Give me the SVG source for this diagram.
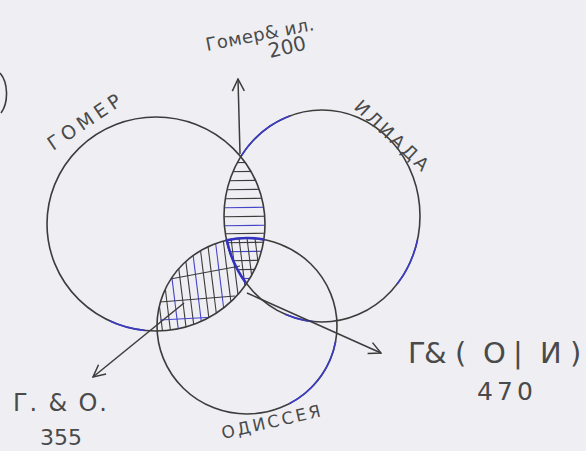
<svg xmlns="http://www.w3.org/2000/svg" width="586" height="451" viewBox="0 0 586 451">
<style>
.c{fill:none;stroke:#3c3c3c;stroke-width:1.6}
.b{fill:none;stroke:#3b3bc8;stroke-width:1.6}
.h{stroke:#3c3c3c;stroke-width:1.1}
.hb{stroke:#4545c8;stroke-width:1.1}
.t{font-family:"DejaVu Sans","Liberation Sans",sans-serif;fill:#4a4a4a}
.a{fill:none;stroke:#3c3c3c;stroke-width:1.5}
</style>
<defs>
<clipPath id="cG"><ellipse cx="156" cy="224" rx="109" ry="107"/></clipPath>
<clipPath id="cI"><ellipse cx="322" cy="216" rx="98" ry="106"/></clipPath>
<clipPath id="cO"><ellipse cx="247" cy="326" rx="90" ry="88"/></clipPath>
<marker id="ah" viewBox="0 0 14 14" refX="13" refY="7" markerWidth="14" markerHeight="14" markerUnits="userSpaceOnUse" orient="auto">
<path d="M1,1 L13,7 L1,13" fill="none" stroke="#3c3c3c" stroke-width="1.5"/>
</marker>
</defs>
<rect x="0" y="0" width="586" height="451" fill="#efeff3"/>
<path class="c" d="M0,73 C8,82 9,102 1,113"/>
<g id="hatching">
<g clip-path="url(#cG)"><g clip-path="url(#cI)">
<line class="h" x1="210" y1="163" x2="280" y2="162"/>
<line class="h" x1="210" y1="172" x2="280" y2="171"/>
<line class="h" x1="210" y1="181" x2="280" y2="180"/>
<line class="h" x1="210" y1="190" x2="280" y2="189"/>
<line class="h" x1="210" y1="199" x2="280" y2="198"/>
<line class="hb" x1="210" y1="208" x2="280" y2="207"/>
<line class="h" x1="210" y1="217" x2="280" y2="216"/>
<line class="hb" x1="210" y1="226" x2="280" y2="225"/>
<line class="h" x1="210" y1="234" x2="280" y2="233"/>
<line class="h" x1="210" y1="243" x2="280" y2="242"/>
<line class="hb" x1="210" y1="252" x2="280" y2="251"/>
<line class="h" x1="210" y1="261" x2="280" y2="260"/>
<line class="h" x1="210" y1="270" x2="280" y2="269"/>
<line class="hb" x1="210" y1="279" x2="280" y2="278"/>
</g></g>
<g clip-path="url(#cG)"><g clip-path="url(#cO)">
<line class="h" x1="150" y1="230" x2="163" y2="335"/>
<line class="h" x1="158" y1="230" x2="171" y2="335"/>
<line class="hb" x1="166" y1="230" x2="179" y2="335"/>
<line class="h" x1="174" y1="230" x2="187" y2="335"/>
<line class="h" x1="182" y1="230" x2="195" y2="335"/>
<line class="hb" x1="190" y1="230" x2="203" y2="335"/>
<line class="h" x1="198" y1="230" x2="211" y2="335"/>
<line class="h" x1="206" y1="230" x2="219" y2="335"/>
<line class="hb" x1="214" y1="230" x2="227" y2="335"/>
<line class="h" x1="222" y1="230" x2="235" y2="335"/>
<line class="h" x1="230" y1="230" x2="243" y2="335"/>
<line class="h" x1="238" y1="230" x2="251" y2="335"/>
<line class="h" x1="246" y1="230" x2="259" y2="335"/>
<line class="h" x1="254" y1="230" x2="267" y2="335"/>
<line class="h" x1="262" y1="230" x2="275" y2="335"/>
<line class="h" x1="165" y1="280" x2="240" y2="266"/>
<line class="h" x1="160" y1="302" x2="235" y2="296"/>
<line class="hb" x1="160" y1="320" x2="235" y2="316"/>
</g></g>
</g>
<g id="gomer">
<ellipse class="c" cx="156" cy="224" rx="109" ry="107"/>
<path class="b" d="M144.6,330.4 A109,107 0 0 1 109.9,321.0"/>
<text class="t" font-size="19" transform="translate(53,151) rotate(-34)" textLength="84" lengthAdjust="spacing">ГОМЕР</text>
</g>
<g id="iliada">
<ellipse class="c" cx="322" cy="216" rx="98" ry="106"/>
<path class="b" d="M241.7,155.2 A98,106 0 0 1 290.1,115.8"/>
<path class="b" d="M417.5,239.8 A98,106 0 0 1 397.1,284.1"/>
<path class="b" d="M313.5,321.6 A98,106 0 0 1 285.3,314.3"/>
<text class="t" font-size="18" transform="translate(353,108) rotate(43)" textLength="94" lengthAdjust="spacing">ИЛИАДА</text>
</g>
<g id="odisseya">
<ellipse class="c" cx="247" cy="326" rx="90" ry="88"/>
<path class="b" d="M335.6,341.3 A90,88 0 0 1 289.3,403.7"/>
<text class="t" font-size="17" transform="translate(223,439) rotate(-13)" textLength="101" lengthAdjust="spacing">ОДИССЕЯ</text>
</g>
<g id="center">
<path fill="none" stroke="#3232c0" stroke-width="2.6" d="M264.2,239.6 A90,88 0 0 0 226.8,240.3 A98,106 0 0 0 245.8,282.7"/>
</g>
<g id="connectors">
<line class="a" x1="240" y1="154" x2="238" y2="79" marker-end="url(#ah)"/>
<line class="a" x1="247" y1="293" x2="381" y2="353" marker-end="url(#ah)"/>
<line class="a" x1="184" y1="303" x2="93" y2="377" marker-end="url(#ah)"/>
</g>
<g id="label-top">
<text class="t" font-size="18" transform="translate(207,51) rotate(-11)" textLength="110" lengthAdjust="spacing">Гомер&amp; ил.</text>
<text class="t" font-size="20" transform="translate(270,58) rotate(-13)">200</text>
</g>
<g id="label-go">
<text class="t" font-size="24" x="13" y="411" textLength="94" lengthAdjust="spacing">Г. &amp; О.</text>
<text class="t" font-size="22" x="40" y="445">355</text>
</g>
<g id="label-goi">
<text class="t" font-size="29" x="408 424 455 483 513 540 570" y="363">Г&amp;(О|И)</text>
<text class="t" font-size="25" x="477" y="400" textLength="56" lengthAdjust="spacing">470</text>
</g>
</svg>
